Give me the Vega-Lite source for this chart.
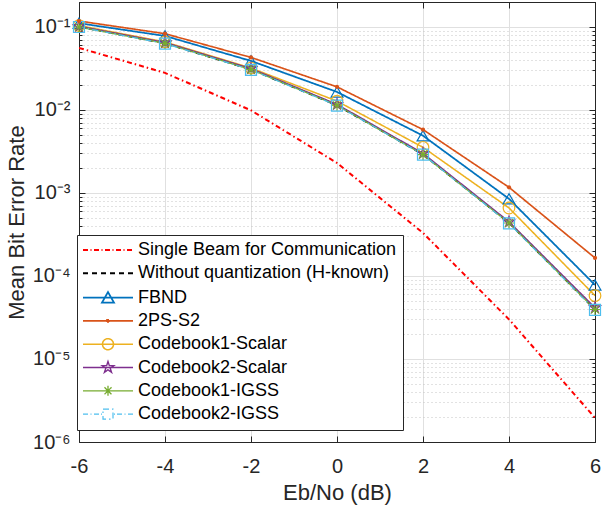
{
  "$schema": "https://vega.github.io/schema/vega-lite/v6.json",
  "width": 516,
  "height": 440,
  "autosize": {"type": "none"},
  "padding": {"left": 79, "top": 2, "right": 8, "bottom": 67},
  "background": "white",
  "config": {
    "view": {"stroke": "#262626", "strokeWidth": 1},
    "font": "Liberation Sans",
    "axis": {
      "domainColor": "#262626", "domainWidth": 1,
      "tickColor": "#262626", "tickWidth": 1,
      "labelColor": "#262626", "titleColor": "#262626",
      "labelFont": "Liberation Sans", "titleFont": "Liberation Sans",
      "labelFontSize": 20, "titleFontSize": 22, "titleFontWeight": "normal",
      "gridColor": "#e0e0e0", "gridWidth": 1,
      "labelFlush": false, "labelOverlap": false
    },
    "legend": {
      "labelFont": "Liberation Sans", "labelFontSize": 18, "labelColor": "#000000"
    }
  },
  "data": {
    "values": [
      {"s": "Single Beam for Communication", "x": -6, "y": 0.056},
      {"s": "Single Beam for Communication", "x": -4, "y": 0.028},
      {"s": "Single Beam for Communication", "x": -2, "y": 0.0099},
      {"s": "Single Beam for Communication", "x": 0, "y": 0.0023},
      {"s": "Single Beam for Communication", "x": 2, "y": 0.00033},
      {"s": "Single Beam for Communication", "x": 4, "y": 0.00003},
      {"s": "Single Beam for Communication", "x": 6, "y": 0.00000195},
      {"s": "Without quantization (H-known)", "x": -6, "y": 0.101},
      {"s": "Without quantization (H-known)", "x": -4, "y": 0.0635},
      {"s": "Without quantization (H-known)", "x": -2, "y": 0.0308},
      {"s": "Without quantization (H-known)", "x": 0, "y": 0.0114},
      {"s": "Without quantization (H-known)", "x": 2, "y": 0.00292},
      {"s": "Without quantization (H-known)", "x": 4, "y": 0.000438},
      {"s": "Without quantization (H-known)", "x": 6, "y": 0.0000395},
      {"s": "FBND", "x": -6, "y": 0.111},
      {"s": "FBND", "x": -4, "y": 0.078},
      {"s": "FBND", "x": -2, "y": 0.039},
      {"s": "FBND", "x": 0, "y": 0.0165},
      {"s": "FBND", "x": 2, "y": 0.0049},
      {"s": "FBND", "x": 4, "y": 0.00085},
      {"s": "FBND", "x": 6, "y": 0.000078},
      {"s": "2PS-S2", "x": -6, "y": 0.118},
      {"s": "2PS-S2", "x": -4, "y": 0.083},
      {"s": "2PS-S2", "x": -2, "y": 0.043},
      {"s": "2PS-S2", "x": 0, "y": 0.019},
      {"s": "2PS-S2", "x": 2, "y": 0.0058},
      {"s": "2PS-S2", "x": 4, "y": 0.00117},
      {"s": "2PS-S2", "x": 6, "y": 0.000165},
      {"s": "Codebook1-Scalar", "x": -6, "y": 0.104},
      {"s": "Codebook1-Scalar", "x": -4, "y": 0.066},
      {"s": "Codebook1-Scalar", "x": -2, "y": 0.032},
      {"s": "Codebook1-Scalar", "x": 0, "y": 0.0128},
      {"s": "Codebook1-Scalar", "x": 2, "y": 0.00355},
      {"s": "Codebook1-Scalar", "x": 4, "y": 0.00066},
      {"s": "Codebook1-Scalar", "x": 6, "y": 0.000058},
      {"s": "Codebook2-Scalar", "x": -6, "y": 0.102},
      {"s": "Codebook2-Scalar", "x": -4, "y": 0.065},
      {"s": "Codebook2-Scalar", "x": -2, "y": 0.0315},
      {"s": "Codebook2-Scalar", "x": 0, "y": 0.0117},
      {"s": "Codebook2-Scalar", "x": 2, "y": 0.003},
      {"s": "Codebook2-Scalar", "x": 4, "y": 0.00045},
      {"s": "Codebook2-Scalar", "x": 6, "y": 0.0000415},
      {"s": "Codebook1-IGSS", "x": -6, "y": 0.1},
      {"s": "Codebook1-IGSS", "x": -4, "y": 0.0635},
      {"s": "Codebook1-IGSS", "x": -2, "y": 0.0307},
      {"s": "Codebook1-IGSS", "x": 0, "y": 0.0114},
      {"s": "Codebook1-IGSS", "x": 2, "y": 0.0029},
      {"s": "Codebook1-IGSS", "x": 4, "y": 0.000435},
      {"s": "Codebook1-IGSS", "x": 6, "y": 0.0000395},
      {"s": "Codebook2-IGSS", "x": -6, "y": 0.1},
      {"s": "Codebook2-IGSS", "x": -4, "y": 0.063},
      {"s": "Codebook2-IGSS", "x": -2, "y": 0.0305},
      {"s": "Codebook2-IGSS", "x": 0, "y": 0.0113},
      {"s": "Codebook2-IGSS", "x": 2, "y": 0.0029},
      {"s": "Codebook2-IGSS", "x": 4, "y": 0.00043},
      {"s": "Codebook2-IGSS", "x": 6, "y": 0.000039}
    ]
  },
  "layer": [
    {
      "mark": {"type": "line", "clip": true},
      "encoding": {
        "x": {
          "field": "x", "type": "quantitative",
          "scale": {"domain": [-6, 6], "nice": false, "zero": false},
          "axis": {
            "orient": "bottom", "values": [-6, -4, -2, 0, 2, 4, 6],
            "grid": true, "tickSize": -6, "labelPadding": 20,
            "labelExpr": "datum.value < 0 ? '-' + abs(datum.value) : '' + datum.value",
            "title": "Eb/No (dB)", "titleBaseline": "alphabetic", "titleY": 57
          }
        },
        "y": {
          "field": "y", "type": "quantitative",
          "scale": {"type": "log", "domain": [0.000001, 0.2], "nice": false},
          "axis": {
            "orient": "left",
            "values": [0.000001,0.000002,0.000003,0.000004,0.000005,0.000006,0.000007,0.000008,0.000009,0.00001,0.00002,0.00003,0.00004,0.00005,0.00006,0.00007,0.00008,0.00009,0.0001,0.0002,0.0003,0.0004,0.0005,0.0006,0.0007,0.0008,0.0009,0.001,0.002,0.003,0.004,0.005,0.006,0.007,0.008,0.009,0.01,0.02,0.03,0.04,0.05,0.06,0.07,0.08,0.09,0.1,0.2],
            "grid": true,
            "gridDash": {"condition": {"test": "abs(log(datum.value)/LN10 - round(log(datum.value)/LN10)) < 0.01", "value": []}, "value": [1, 3]},
            "gridColor": {"condition": {"test": "abs(log(datum.value)/LN10 - round(log(datum.value)/LN10)) < 0.01", "value": "#e0e0e0"}, "value": "#c4c4c4"},
            "tickSize": {"condition": {"test": "abs(log(datum.value)/LN10 - round(log(datum.value)/LN10)) < 0.01", "value": -6}, "value": -3},
            "labelExpr": "abs(log(datum.value)/LN10 - round(log(datum.value)/LN10)) < 0.01 ? '10⁻' + ['⁰','¹','²','³','⁴','⁵','⁶'][-round(log(datum.value)/LN10)] : ''",
            "labelPadding": 15,
            "title": "Mean Bit Error Rate", "titleX": -51, "titleY": 220
          }
        },
        "color": {
          "field": "s", "type": "nominal",
          "scale": {
            "domain": ["Single Beam for Communication", "Without quantization (H-known)", "FBND", "2PS-S2", "Codebook1-Scalar", "Codebook2-Scalar", "Codebook1-IGSS", "Codebook2-IGSS"],
            "range": ["#FF0000", "#000000", "#0072BD", "#D95319", "#EDB120", "#7E2F8E", "#77AC30", "#4DBEEE"]
          },
          "legend": {
            "orient": "none", "legendX": -2, "legendY": 233,
            "title": null, "direction": "vertical",
            "fillColor": "white", "strokeColor": "#262626", "padding": 6,
            "symbolSize": 100, "symbolStrokeWidth": 1, "symbolOffset": 16,
            "symbolFillColor": "transparent",
            "rowPadding": 5.3, "labelOffset": 21, "labelLimit": 400,
            "encode": {
              "symbols": {
                "update": {
                  "fill": {"value": "transparent"},
                  "fillOpacity": {"value": 0},
                  "strokeWidth": {"value": 1},
                  "strokeDash": {"value": [1, 0]},
                  "shape": {"signal": "datum.value === 'Single Beam for Communication' ? 'M-5,0H-4M-3.5,0H-3.3M-2.8,0H-1.8M-1.3,0H-1.1M-0.6,0H0.4M0.9,0H1.1M1.6,0H2.6M3.1,0H3.3M3.8,0H4.8' : datum.value === 'Without quantization (H-known)' ? 'M-5,0H-4M-3.2,0H-2.2M-1.4,0H-0.4M0.4,0H1.4M2.2,0H3.2M4,0H5' : datum.value === 'FBND' ? 'M-5,0H5M-1.2,1L0,-1.1L1.2,1Z' : datum.value === '2PS-S2' ? 'M-5,0H5M-0.2,-0.2H0.2V0.2H-0.2Z' : datum.value === 'Codebook1-Scalar' ? 'M-5,0H5M-1.1,0A1.1,1.1 0 1,0 1.1,0A1.1,1.1 0 1,0 -1.1,0Z' : datum.value === 'Codebook2-Scalar' ? 'M-5,0H5M0,-1.2L0.27,-0.37L1.14,-0.37L0.435,0.14L0.705,0.97L0,0.46L-0.705,0.97L-0.435,0.14L-1.14,-0.37L-0.27,-0.37Z' : datum.value === 'Codebook1-IGSS' ? 'M-5,0H5M0,-1V1M-0.7,-0.7L0.7,0.7M-0.7,0.7L0.7,-0.7' : 'M-5,0H-4M-3.5,0H-3.3M-2.8,0H-1.8M-1.4,0H-1.2M-1,-1H1V1H-1ZM1.2,0H1.4M1.8,0H2.8M3.3,0H3.5M4,0H5'"}
                }
              }
            }
          }
        },
        "strokeDash": {
          "field": "s", "type": "nominal",
          "scale": {
            "domain": ["Single Beam for Communication", "Without quantization (H-known)", "FBND", "2PS-S2", "Codebook1-Scalar", "Codebook2-Scalar", "Codebook1-IGSS", "Codebook2-IGSS"],
            "range": [[5, 3, 1.5, 3], [5, 5], [1, 0], [1, 0], [1, 0], [1, 0], [1, 0], [6, 3, 1.5, 3]]
          },
          "legend": null
        },
        "strokeWidth": {
          "field": "s", "type": "nominal",
          "scale": {
            "domain": ["Single Beam for Communication", "Without quantization (H-known)", "FBND", "2PS-S2", "Codebook1-Scalar", "Codebook2-Scalar", "Codebook1-IGSS", "Codebook2-IGSS"],
            "range": [2, 1.2, 1.2, 1.2, 1.2, 1.2, 1.2, 1.2]
          },
          "legend": null
        }
      }
    },
    {
      "transform": [{"filter": {"field": "s", "oneOf": ["FBND", "Codebook1-Scalar", "Codebook2-Scalar", "Codebook1-IGSS", "Codebook2-IGSS"]}}],
      "mark": {"type": "point", "filled": false, "strokeWidth": 1.2, "opacity": 1},
      "encoding": {
        "x": {
          "field": "x", "type": "quantitative",
          "axis": {"orient": "top", "values": [-6, -4, -2, 0, 2, 4, 6], "labels": false, "grid": false, "tickSize": -6, "title": null}
        },
        "y": {
          "field": "y", "type": "quantitative",
          "axis": {
            "orient": "right",
            "values": [0.000001,0.000002,0.000003,0.000004,0.000005,0.000006,0.000007,0.000008,0.000009,0.00001,0.00002,0.00003,0.00004,0.00005,0.00006,0.00007,0.00008,0.00009,0.0001,0.0002,0.0003,0.0004,0.0005,0.0006,0.0007,0.0008,0.0009,0.001,0.002,0.003,0.004,0.005,0.006,0.007,0.008,0.009,0.01,0.02,0.03,0.04,0.05,0.06,0.07,0.08,0.09,0.1,0.2],
            "labels": false, "grid": false, "title": null,
            "tickSize": {"condition": {"test": "abs(log(datum.value)/LN10 - round(log(datum.value)/LN10)) < 0.01", "value": -6}, "value": -3}
          }
        },
        "color": {"field": "s", "type": "nominal", "legend": null},
        "shape": {
          "field": "s", "type": "nominal",
          "scale": {
            "domain": ["FBND", "Codebook1-Scalar", "Codebook2-Scalar", "Codebook1-IGSS", "Codebook2-IGSS"],
            "range": ["triangle-up", "circle", "M0,-1L0.225,-0.309L0.951,-0.309L0.363,0.118L0.588,0.809L0,0.382L-0.588,0.809L-0.363,0.118L-0.951,-0.309L-0.225,-0.309Z", "M-1,0H1M0,-1V1M-0.7,-0.7L0.7,0.7M-0.7,0.7L0.7,-0.7", "square"]
          },
          "legend": null
        },
        "size": {
          "field": "s", "type": "nominal",
          "scale": {
            "domain": ["FBND", "Codebook1-Scalar", "Codebook2-Scalar", "Codebook1-IGSS", "Codebook2-IGSS"],
            "range": [140, 121, 121, 90, 121]
          },
          "legend": null
        }
      }
    },
    {
      "transform": [{"filter": {"field": "s", "equal": "2PS-S2"}}],
      "mark": {"type": "point", "filled": true, "size": 18, "shape": "circle", "opacity": 1},
      "encoding": {
        "x": {"field": "x", "type": "quantitative", "axis": null},
        "y": {"field": "y", "type": "quantitative", "axis": null},
        "color": {"field": "s", "type": "nominal", "legend": null}
      }
    }
  ],
  "resolve": {"axis": {"x": "independent", "y": "independent"}}
}
